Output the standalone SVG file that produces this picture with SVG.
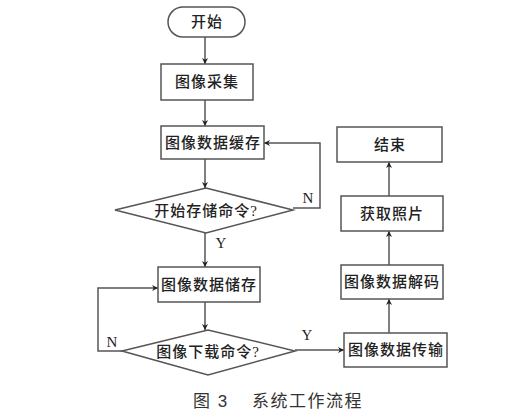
<svg xmlns="http://www.w3.org/2000/svg" width="521" height="417" viewBox="0 0 521 417">
<defs>
<style>
.box{fill:#fff;stroke:#555;stroke-width:1.5}
.ln{fill:none;stroke:#555;stroke-width:1.5}
.t{font-family:"Liberation Serif","Noto Sans CJK SC",serif;font-size:15px;fill:#222;text-anchor:middle;letter-spacing:1px;font-weight:500}
.lab{font-family:"Liberation Serif",serif;font-size:15px;fill:#222;text-anchor:middle}
.cap{font-family:"Liberation Sans","Noto Sans CJK SC",sans-serif;font-size:17px;fill:#333;letter-spacing:1.5px}
</style>
<marker id="ah" viewBox="0 0 10 10" refX="10" refY="5" markerWidth="6" markerHeight="6" orient="auto" markerUnits="userSpaceOnUse">
<path d="M0,0 L10,5 L0,10 L3,5 Z" fill="#222"/>
</marker>
</defs>
<rect width="521" height="417" fill="#fff"/>
<g id="connectors">
<line class="ln" x1="205" y1="37" x2="205" y2="64" marker-end="url(#ah)"/>
<line class="ln" x1="205" y1="100" x2="205" y2="126" marker-end="url(#ah)"/>
<line class="ln" x1="205" y1="159" x2="205" y2="188" marker-end="url(#ah)"/>
<polyline class="ln" points="293,208 320,208 320,143 264,143" marker-end="url(#ah)"/>
<line class="ln" x1="205" y1="233" x2="205" y2="267" marker-end="url(#ah)"/>
<line class="ln" x1="205" y1="302" x2="205" y2="330" marker-end="url(#ah)"/>
<polyline class="ln" points="122,351 98,351 98,288 158,288" marker-end="url(#ah)"/>
<line class="ln" x1="295" y1="350" x2="344" y2="350" marker-end="url(#ah)"/>
<line class="ln" x1="389" y1="333" x2="389" y2="299" marker-end="url(#ah)"/>
<line class="ln" x1="389" y1="265" x2="389" y2="231" marker-end="url(#ah)"/>
<line class="ln" x1="389" y1="196" x2="389" y2="162" marker-end="url(#ah)"/>
<text class="lab" x="308" y="203">N</text>
<text class="lab" x="221" y="248">Y</text>
<text class="lab" x="112" y="347">N</text>
<text class="lab" x="307" y="340">Y</text>
</g>
<g id="start">
<rect class="box" x="168" y="7" width="77" height="30" rx="15"/>
<text class="t" x="207" y="27">开始</text>
</g>
<g id="capture">
<rect class="box" x="161" y="64" width="92" height="36"/>
<text class="t" x="207" y="87">图像采集</text>
</g>
<g id="buffer">
<rect class="box" x="161" y="126" width="103" height="33"/>
<text class="t" x="213" y="148">图像数据缓存</text>
</g>
<g id="startStore">
<polygon class="box" points="115,210 206,188 293,210 206,233"/>
<text class="t" x="206" y="216">开始存储命令?</text>
</g>
<g id="store">
<rect class="box" x="158" y="267" width="102" height="35"/>
<text class="t" x="209" y="290">图像数据储存</text>
</g>
<g id="download">
<polygon class="box" points="122,351 208,330 295,351 208,375"/>
<text class="t" x="208" y="357">图像下载命令?</text>
</g>
<g id="transfer">
<rect class="box" x="344" y="333" width="103" height="34"/>
<text class="t" x="396" y="355">图像数据传输</text>
</g>
<g id="decode">
<rect class="box" x="341" y="265" width="102" height="34"/>
<text class="t" x="392" y="287">图像数据解码</text>
</g>
<g id="photo">
<rect class="box" x="341" y="196" width="102" height="35"/>
<text class="t" x="392" y="219">获取照片</text>
</g>
<g id="end">
<rect class="box" x="337" y="127" width="105" height="35"/>
<text class="t" x="390" y="150">结束</text>
</g>
<g id="caption">
<text class="cap" x="193" y="407">图 3</text>
<text class="cap" x="252" y="407">系统工作流程</text>
</g>
</svg>
